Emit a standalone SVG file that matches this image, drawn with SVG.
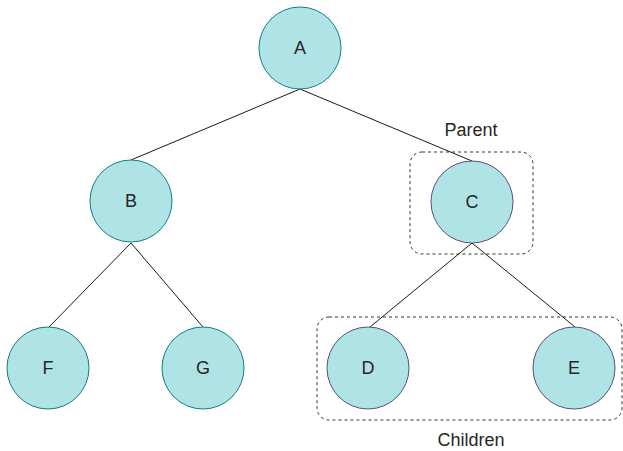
<svg xmlns="http://www.w3.org/2000/svg" width="623" height="451" viewBox="0 0 623 451">
<style>
.n1{fill:#b0e3e6;stroke:#0e8088;stroke-width:1}
.n2{fill:#b0e3e6;stroke:#56517e;stroke-width:1}
.t{font-family:"Liberation Sans",Arial,sans-serif;font-size:18px;fill:#262626;text-anchor:middle;dominant-baseline:central}
.e{stroke:#1a1a1a;stroke-width:1;fill:none}
.g{fill:none;stroke:#333;stroke-width:1;stroke-dasharray:3 3}
</style>
<rect width="623" height="451" fill="#fff"/>
<g id="groups">
<rect class="g" x="410" y="152" width="123" height="102" rx="12"/>
<rect class="g" x="317" y="317" width="305" height="103" rx="12"/>
<text class="t" x="471" y="130">Parent</text>
<text class="t" x="471" y="440">Children</text>
</g>
<g id="connectors">
<path class="e" d="M300 89 L131 160"/>
<path class="e" d="M300 89 L472 161"/>
<path class="e" d="M131 243 L49 327"/>
<path class="e" d="M131 243 L203 327"/>
<path class="e" d="M472 243 L370 327"/>
<path class="e" d="M472 243 L575 327"/>
</g>
<g id="A"><circle class="n1" cx="300" cy="48" r="41"/><text class="t" x="300" y="48">A</text></g>
<g id="B"><circle class="n1" cx="131" cy="201" r="41"/><text class="t" x="131" y="201">B</text></g>
<g id="C"><circle class="n2" cx="472" cy="202" r="41"/><text class="t" x="472" y="202">C</text></g>
<g id="F"><circle class="n1" cx="48" cy="368" r="41"/><text class="t" x="48" y="368">F</text></g>
<g id="G"><circle class="n1" cx="203" cy="368" r="41"/><text class="t" x="203" y="368">G</text></g>
<g id="D"><circle class="n2" cx="368" cy="368" r="41"/><text class="t" x="368" y="368">D</text></g>
<g id="E"><circle class="n2" cx="574" cy="368" r="41"/><text class="t" x="574" y="368">E</text></g>
</svg>
